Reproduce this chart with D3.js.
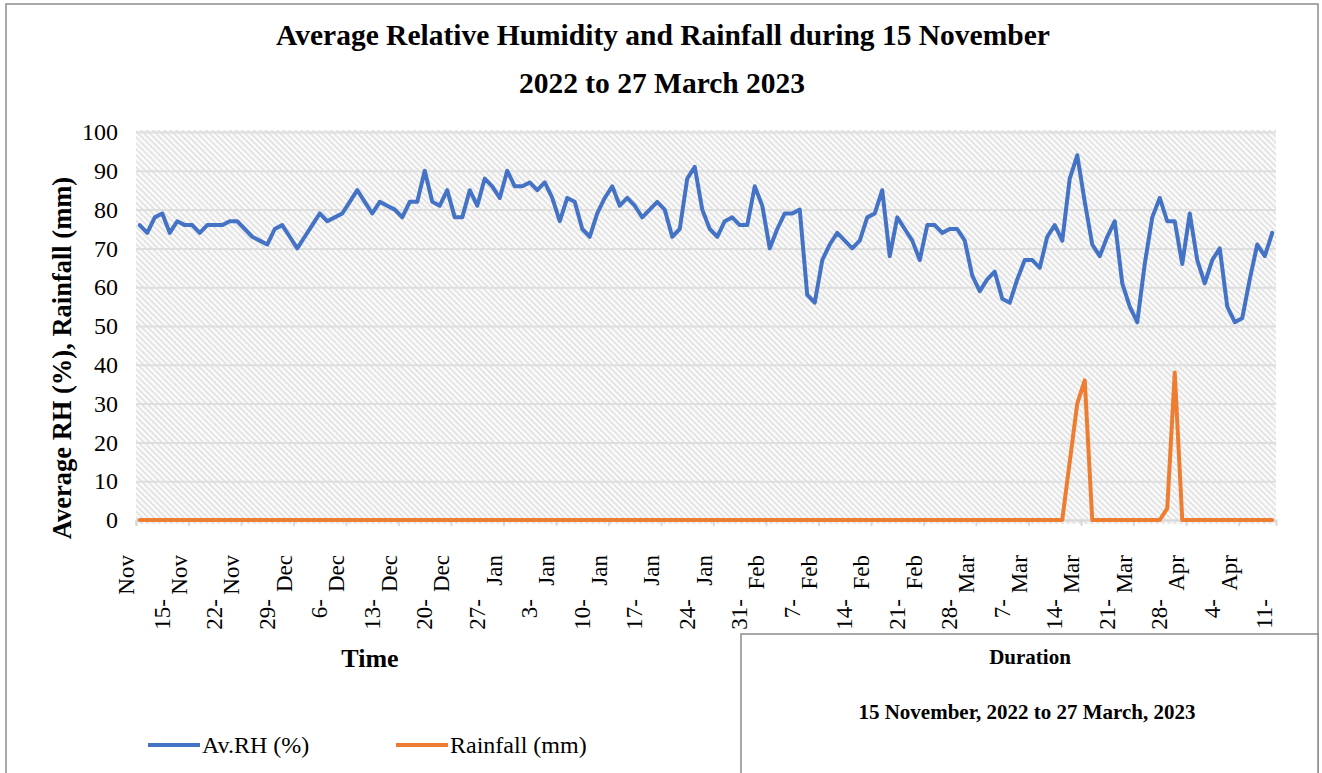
<!DOCTYPE html>
<html>
<head>
<meta charset="utf-8">
<script src="https://cdn.jsdelivr.net/npm/d3@7"></script>
<style>
  body{margin:0;background:#fff;}
  svg{display:block;font-family:'Liberation Serif','Times New Roman',serif;}
</style>
</head>
<body>
<div class="chart"></div>
<script>
//Average RH (%) per day
const rhValues = [
  76,74,78,79,74,77,76,76,74,76,
  76,76,77,77,75,73,72,71,75,76,
  73,70,73,76,79,77,78,79,82,85,
  82,79,82,81,80,78,82,82,90,82,
  81,85,78,78,85,81,88,86,83,90,
  86,86,87,85,87,83,77,83,82,75,
  73,79,83,86,81,83,81,78,80,82,
  80,73,75,88,91,80,75,73,77,78,
  76,76,86,81,70,75,79,79,80,58,
  56,67,71,74,72,70,72,78,79,85,
  68,78,75,72,67,76,76,74,75,75,
  72,63,59,62,64,57,56,62,67,67,
  65,73,76,72,88,94,82,71,68,73,
  77,61,55,51,66,78,83,77,77,66,
  79,67,61,67,70,55,51,52,62,71,
  68,74
];
//Rainfall (mm) per day
const rainValues = [
  0,0,0,0,0,0,0,0,0,0,
  0,0,0,0,0,0,0,0,0,0,
  0,0,0,0,0,0,0,0,0,0,
  0,0,0,0,0,0,0,0,0,0,
  0,0,0,0,0,0,0,0,0,0,
  0,0,0,0,0,0,0,0,0,0,
  0,0,0,0,0,0,0,0,0,0,
  0,0,0,0,0,0,0,0,0,0,
  0,0,0,0,0,0,0,0,0,0,
  0,0,0,0,0,0,0,0,0,0,
  0,0,0,0,0,0,0,0,0,0,
  0,0,0,0,0,0,0,0,0,0,
  0,0,0,0,15,30,36,0,0,0,
  0,0,0,0,0,0,0,3,38,0,
  0,0,0,0,0,0,0,0,0,0,
  0,0
];
//x tick labels (every 7th day), as they show: [day part, month part]
const tickLabels = [
  ['','Nov'],['15-','Nov'],['22-','Nov'],['29-','Dec'],['6-','Dec'],['13-','Dec'],
  ['20-','Dec'],['27-','Jan'],['3-','Jan'],['10-','Jan'],['17-','Jan'],['24-','Jan'],
  ['31-','Feb'],['7-','Feb'],['14-','Feb'],['21-','Feb'],['28-','Mar'],['7-','Mar'],
  ['14-','Mar'],['21-','Mar'],['28-','Apr'],['4-','Apr'],['11-','']
];
const yTicks = [0,10,20,30,40,50,60,70,80,90,100];
const series = [
  {name:'Av.RH (%)', values:rhValues, color:'#4472C4'},
  {name:'Rainfall (mm)', values:rainValues, color:'#ED7D31'}
];

const svg_width = 1322;
const svg_height = 773;
const plot = {left:136, right:1276, top:132, bottom:520};

const svg = d3.select('.chart').append('svg')
  .attr('width', svg_width).attr('height', svg_height);

//outer border of the chart
svg.append('rect').attr('x',6).attr('y',4).attr('width',1312).attr('height',800)
  .attr('fill','#fff').attr('stroke','#8c8c8c').attr('stroke-width',1.5);

//hatch fill for the plot area
const defs = svg.append('defs');
const pat = defs.append('pattern').attr('id','hatch')
  .attr('patternUnits','userSpaceOnUse').attr('width',4.2).attr('height',4.2)
  .attr('patternTransform','rotate(45)');
pat.append('rect').attr('width',4.2).attr('height',4.2).attr('fill','#fbfbfb');
pat.append('rect').attr('width',4.2).attr('height',1.8).attr('fill','#e2e2e2');

const n = rhValues.length;
const xScale = d3.scaleLinear([0, n], [plot.left, plot.right]);
const yScale = d3.scaleLinear([0, 100], [plot.bottom, plot.top]);

svg.append('rect').attr('x',plot.left).attr('y',plot.top-2)
  .attr('width',plot.right-plot.left).attr('height',plot.bottom-plot.top+6)
  .attr('fill','url(#hatch)');

//gridlines + y labels
const yAxis = d3.axisLeft(yScale).tickValues(yTicks)
  .tickSize(-(plot.right-plot.left)).tickPadding(18);
const yAxisDraw = svg.append('g').attr('transform',`translate(${plot.left},0)`).call(yAxis);
yAxisDraw.select('.domain').remove();
yAxisDraw.selectAll('line').attr('stroke','#dedede').attr('stroke-width',2);
yAxisDraw.selectAll('text').attr('font-size',24).attr('fill','#000')
  .attr('font-family','Liberation Serif, Times New Roman, serif');

//x tick marks every 7 days
const tickIdx = d3.range(0, n, 7);
const xAxis = d3.axisBottom(xScale).tickValues(tickIdx).tickSize(6).tickFormat('');
const xAxisDraw = svg.append('g').attr('transform',`translate(0,${plot.bottom})`).call(xAxis);
xAxisDraw.select('.domain').attr('stroke','#d9d9d9').attr('stroke-width',2);
xAxisDraw.selectAll('line').attr('stroke','#d9d9d9').attr('stroke-width',2);

//x labels, rotated, in two parts
const lab = svg.append('g').attr('class','x-labels')
  .attr('font-size',23).attr('fill','#000');
tickLabels.forEach((t,k)=>{
  const xt = xScale(k*7);
  lab.append('text').text(t[0])
    .attr('text-anchor','end')
    .attr('transform',`translate(${xt-19},599) rotate(-90)`);
  lab.append('text').text(t[1])
    .attr('text-anchor','end')
    .attr('transform',`translate(${xt-2},555) rotate(-90)`);
});

//lines
const line = d3.line().x((d,i)=>xScale(i+0.5)).y(d=>yScale(d));
svg.append('g').selectAll('path').data(series.slice().reverse()).join('path')
  .attr('d', d=>line(d.values))
  .attr('fill','none').attr('stroke',d=>d.color)
  .attr('stroke-width',4).attr('stroke-linejoin','round').attr('stroke-linecap','round');

//titles
const title = svg.append('text').attr('text-anchor','middle')
  .attr('font-weight','bold').attr('font-size',29.5);
title.append('tspan').attr('x',663).attr('y',45).text('Average Relative Humidity and Rainfall during 15 November');
title.append('tspan').attr('x',662).attr('y',93).text('2022 to 27 March 2023');

svg.append('text').text('Average RH (%), Rainfall (mm)')
  .attr('text-anchor','middle').attr('font-weight','bold').attr('font-size',26.5)
  .attr('transform','translate(71,358) rotate(-90)');

svg.append('text').text('Time').attr('x',370).attr('y',667)
  .attr('text-anchor','middle').attr('font-weight','bold').attr('font-size',26);

//legend
const legend = svg.append('g').attr('font-size',24);
const legendX = [148, 396];
series.forEach((s,i)=>{
  legend.append('line').attr('x1',legendX[i]).attr('x2',legendX[i]+52)
    .attr('y1',745).attr('y2',745).attr('stroke',s.color).attr('stroke-width',4);
  legend.append('text').text(s.name).attr('x',legendX[i]+54).attr('y',753);
});

//duration box
svg.append('rect').attr('x',741).attr('y',634).attr('width',577).attr('height',200)
  .attr('fill','#fff').attr('stroke','#8c8c8c').attr('stroke-width',1.5);
svg.append('text').text('Duration').attr('x',1030).attr('y',664)
  .attr('text-anchor','middle').attr('font-weight','bold').attr('font-size',21);
svg.append('text').text('15 November, 2022 to 27 March, 2023').attr('x',1027).attr('y',719)
  .attr('text-anchor','middle').attr('font-weight','bold').attr('font-size',21);
</script>
</body>
</html>
